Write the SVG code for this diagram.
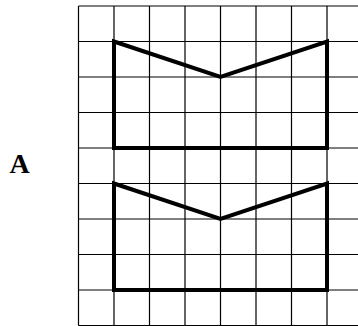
<svg xmlns="http://www.w3.org/2000/svg" width="358" height="326" viewBox="0 0 358 326">
<style>
.g{stroke:#000;stroke-width:1.2;fill:none}
.s{stroke:#000;stroke-width:4;fill:none;stroke-linejoin:miter}
.t{font-family:"Liberation Serif",serif;font-weight:bold;font-size:28px;fill:#000}
</style>
<rect width="358" height="326" fill="#fff"/>
<g id="grid" class="g">
<path d="M78.5 6V325.5M114 6V325.5M149.5 6V325.5M185 6V325.5M220.5 6V325.5M256 6V325.5M291.5 6V325.5M327 6V325.5M362.5 6V325.5"/>
<path d="M78.5 6H362.5M78.5 41.5H362.5M78.5 77H362.5M78.5 112.5H362.5M78.5 148H362.5M78.5 183.5H362.5M78.5 219H362.5M78.5 254.5H362.5M78.5 290H362.5M78.5 325.5H362.5"/>
</g>
<g id="shape-top">
<path class="s" d="M114 41.5L220.5 77L327 41.5V148H114Z"/>
</g>
<g id="shape-bottom">
<path class="s" d="M114 183.5L220.5 219L327 183.5V290H114Z"/>
</g>
<g id="label">
<text class="t" x="19.5" y="173" text-anchor="middle">A</text>
</g>
</svg>
